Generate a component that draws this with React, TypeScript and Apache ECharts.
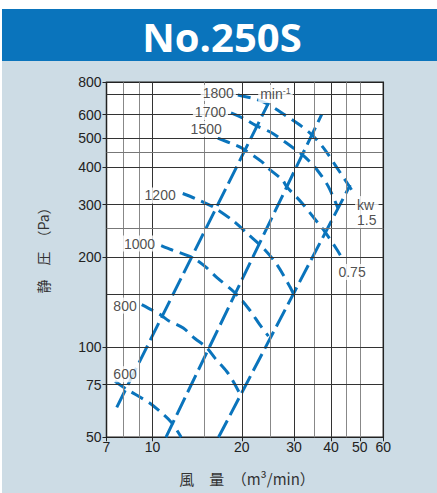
import React, { useEffect, useRef } from 'react';
import * as echarts from 'echarts';

const X_MIN = 7;
const X_MAX = 60;
const Y_MIN = 50;
const Y_MAX = 770;

const xTicks = [7, 10, 20, 30, 40, 50, 60];
const yTicks = [50, 75, 100, 200, 300, 400, 500, 600, 800];

const xGridMajor = [10, 20, 30, 40];
const xGridMinor = [8, 9, 15, 25, 35, 45, 50];
const yGridMajor = [75, 100, 150, 200, 300, 400, 500, 600, 700];
const yGridMinor = [250, 450];

// fan speed curves (min-1): [airflow m3/min, static pressure Pa]
const rpm1800 = [[19.4, 698], [22.2, 677], [24.5, 651], [28.0, 598], [31.4, 554], [34.8, 509], [38.2, 457], [41.3, 407], [44.6, 363], [48.2, 323]];
const rpm1700 = [[18.4, 608], [20.5, 580], [22.2, 554], [25.3, 521], [28.0, 486], [30.2, 460], [32.7, 433], [35.9, 392], [39.1, 346], [42.2, 292]];
const rpm1500 = [[16.6, 501], [19.0, 475], [20.0, 464], [23.4, 417], [24.5, 398], [27.4, 363], [28.4, 344], [31.9, 304], [36.2, 260], [38.2, 243], [41.9, 212], [43.9, 196]];
const rpm1200 = [[12.65, 327], [13.9, 315], [16.0, 295], [18.7, 265], [21.0, 239], [23.6, 215], [26.3, 189], [29.1, 159], [29.85, 151]];
const rpm1000 = [[10.7, 219], [11.6, 212], [13.7, 199], [15.0, 187], [16.5, 171], [19.0, 152], [21.3, 133], [23.0, 119], [24.6, 109]];
const rpm800 = [[9.2, 139], [10.0, 133], [10.7, 128], [11.3, 123], [12.7, 116], [13.9, 107], [15.2, 100], [16.25, 92], [17.8, 83], [18.7, 77], [19.7, 70]];
const rpm600 = [[7.48, 77], [8.08, 73], [9.8, 65], [10.6, 61], [11.6, 56], [12.5, 50]];

// rising resistance / power lines
const lineA = [[7.58, 63], [24.6, 656]];
const lineB = [[11.1, 50], [37.2, 601]];
const lineC = [[16.7, 50], [46.4, 349]];

const BLUE = '#0A74BC';
const BG = '#CDDCE5';
const FONT = "'Liberation Sans', Arial, 'Noto Sans CJK JP', sans-serif";
const CJK = "'Noto Sans CJK JP', 'Liberation Sans', sans-serif";

const fanCurves = [
  { name: '1800', data: rpm1800, pos: 'left', dist: 2, off: [0, -2] },
  { name: '1700', data: rpm1700, pos: 'left', dist: 3, off: [0, -1] },
  { name: '1500', data: rpm1500, pos: 'left', dist: 3, off: [9, -9] },
  { name: '1200', data: rpm1200, pos: 'left', dist: 5, off: [0, 2] },
  { name: '1000', data: rpm1000, pos: 'left', dist: 4, off: [0, -2] },
  { name: '800', data: rpm800, pos: 'left', dist: 3, off: [0, 1] },
  { name: '600', data: rpm600, pos: 'top', dist: 0, off: [10, 1] },
];
const risingLines = [lineA, lineB, lineC];

export default function App() {
  const ref = useRef<HTMLDivElement>(null);
  useEffect(() => {
    if (!ref.current) return;
    const chart = echarts.init(ref.current, null, { renderer: 'svg' });
    const yLabelPos = yTicks.map((t) => Math.min(t, Y_MAX));

    const gridLines: any[] = [
      ...xGridMajor.map((v) => ({ xAxis: v, lineStyle: { color: '#333', width: 1, type: 'solid' } })),
      ...xGridMinor.map((v) => ({ xAxis: v, lineStyle: { color: '#888', width: 1, type: 'solid' } })),
      ...yGridMajor.map((v) => ({ yAxis: v, lineStyle: { color: '#333', width: 1, type: 'solid' } })),
      ...yGridMinor.map((v) => ({ yAxis: v, lineStyle: { color: '#777', width: 1, type: 'solid' } })),
    ];

    const labelBase = {
      show: true,
      color: '#222',
      fontSize: 14,
      fontFamily: FONT,
      backgroundColor: '#fff',
      padding: [1, 2],
    };

    const labelData: any[] = fanCurves.map((c) => ({
      value: c.data[0],
      label: { ...labelBase, formatter: c.name, position: c.pos, distance: c.dist, offset: c.off },
    }));
    labelData.push({
      value: rpm1800[rpm1800.length - 1],
      label: { ...labelBase, formatter: 'kw\n1.5', position: 'right', distance: 0, offset: [0, 17], align: 'left', lineHeight: 15 },
    });
    labelData.push({
      value: rpm1500[rpm1500.length - 1],
      label: { ...labelBase, formatter: '0.75', position: 'bottom', distance: 0, offset: [9, 4] },
    });
    labelData.push({
      value: rpm1800[1],
      label: {
        ...labelBase,
        formatter: '{a|min}{b|-1}',
        position: 'right',
        distance: 0,
        offset: [3, -5],
        rich: {
          a: { fontSize: 14, fontFamily: FONT, color: '#222' },
          b: { fontSize: 9, fontFamily: FONT, color: '#222', padding: [0, 0, 7, 0] },
        },
      },
    });

    const option: any = {
      animation: false,
      grid: {
        left: 106.5,
        top: 82.3,
        right: 53.7,
        bottom: 55.7,
        show: true,
        backgroundColor: '#fff',
        borderColor: '#222',
        borderWidth: 1.5,
      },
      xAxis: {
        type: 'log',
        logBase: 10,
        min: X_MIN,
        max: X_MAX,
        axisLine: { show: false },
        splitLine: { show: false },
        axisTick: { show: true, length: 4, inside: false, customValues: xTicks, lineStyle: { color: '#222' } },
        axisLabel: {
          customValues: xTicks,
          margin: 3,
          fontSize: 14,
          color: '#222',
          fontFamily: FONT,
          formatter: (v: number) => String(Math.round(v)),
        },
      },
      yAxis: {
        type: 'log',
        logBase: 10,
        min: Y_MIN,
        max: Y_MAX,
        axisLine: { show: false },
        splitLine: { show: false },
        axisTick: { show: true, length: 4, inside: false, customValues: yLabelPos, lineStyle: { color: '#222' } },
        axisLabel: {
          customValues: yLabelPos,
          margin: 5,
          fontSize: 14,
          color: '#222',
          fontFamily: FONT,
          formatter: (v: number) => {
            const i = yLabelPos.findIndex((p) => Math.abs(p - v) / p < 1e-3);
            return i >= 0 ? String(yTicks[i]) : '';
          },
        },
      },
      graphic: [
        {
          type: 'text',
          x: 222,
          y: 36,
          style: {
            text: 'No.250S',
            fill: '#fff',
            font: `bold 40px 'Open Sans', 'Noto Sans', sans-serif`,
            align: 'center',
            verticalAlign: 'middle',
          },
        },
        {
          type: 'text',
          x: 43,
          y: 247,
          rotation: Math.PI / 2,
          style: {
            text: '静　圧　（Pa）',
            fill: '#333',
            font: `14px ${CJK}`,
            align: 'center',
            verticalAlign: 'middle',
          },
        },
        {
          type: 'text',
          x: 247,
          y: 478,
          style: {
            text: '風　量　（m³/min）',
            fill: '#333',
            font: `15px ${CJK}`,
            align: 'center',
            verticalAlign: 'middle',
          },
        },
      ],
      series: [
        {
          type: 'line',
          name: 'grid',
          data: [],
          z: 1,
          silent: true,
          markLine: { silent: true, symbol: 'none', label: { show: false }, animation: false, data: gridLines },
        },
        ...risingLines.map((d, i) => ({
          type: 'line',
          name: 'sys' + i,
          data: d,
          z: 3,
          showSymbol: false,
          silent: true,
          lineStyle: { color: BLUE, width: 3, type: [19, 6], cap: 'butt' },
        })),
        ...fanCurves.map((c) => ({
          type: 'line',
          name: c.name,
          data: c.data,
          z: 3,
          smooth: 0.3,
          showSymbol: false,
          silent: true,
          lineStyle: { color: BLUE, width: 3, type: [13, 7], cap: 'butt' },
        })),
        {
          type: 'scatter',
          name: 'labels',
          data: labelData,
          symbolSize: 0,
          z: 6,
          silent: true,
        },
      ],
    };
    chart.setOption(option);
    return () => chart.dispose();
  }, []);

  return (
    <div style={{ position: 'fixed', left: 0, top: 0, width: 437, height: 493, background: '#fff' }}>
      <div style={{ position: 'absolute', left: 2, top: 9, width: 435, height: 52, background: BLUE }} />
      <div style={{ position: 'absolute', left: 2, top: 61, width: 435, height: 432, background: BG }} />
      <div ref={ref} style={{ position: 'absolute', left: 0, top: 0, width: 437, height: 493 }} />
    </div>
  );
}
